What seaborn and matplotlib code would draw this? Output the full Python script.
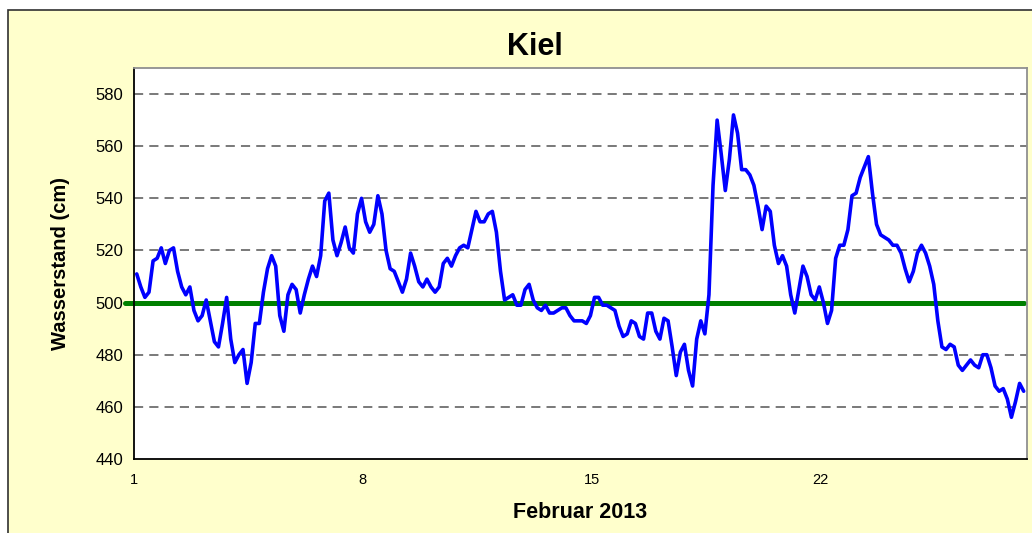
import numpy as np
import pandas as pd
import matplotlib
matplotlib.use('Agg')
import matplotlib.pyplot as plt
import matplotlib.patches as patches
import seaborn as sns

# Wasserstand Kiel, Februar 2013, 3-stuendlich ab 1. Feb 02:00
pegel_cm = [
    511, 506, 502, 504, 516, 517, 521, 515,
    520, 521, 512, 506, 503, 506, 497, 493,
    495, 501, 493, 485, 483, 492, 502, 486,
    477, 480, 482, 469, 477, 492, 492, 504,
    513, 518, 514, 495, 489, 503, 507, 505,
    496, 503, 509, 514, 510, 518, 539, 542,
    524, 518, 523, 529, 521, 519, 534, 540,
    531, 527, 530, 541, 534, 520, 513, 512,
    508, 504, 509, 519, 514, 508, 506, 509,
    506, 504, 506, 515, 517, 514, 518, 521,
    522, 521, 528, 535, 531, 531, 534, 535,
    527, 512, 501, 502, 503, 499, 499, 505,
    507, 501, 498, 497, 499, 496, 496, 497,
    498, 498, 495, 493, 493, 493, 492, 495,
    502, 502, 499, 499, 498, 497, 491, 487,
    488, 493, 492, 487, 486, 496, 496, 489,
    486, 494, 493, 483, 472, 481, 484, 474,
    468, 486, 493, 488, 503, 545, 570, 557,
    543, 555, 572, 565, 551, 551, 549, 545,
    537, 528, 537, 535, 522, 515, 518, 514,
    503, 496, 505, 514, 510, 503, 501, 506,
    500, 492, 497, 517, 522, 522, 528, 541,
    542, 548, 552, 556, 542, 530, 526, 525,
    524, 522, 522, 519, 513, 508, 512, 519,
    522, 519, 514, 507, 493, 483, 482, 484,
    483, 476, 474, 476, 478, 476, 475, 480,
    480, 475, 468, 466, 467, 463, 456, 462,
    469, 466,
]
start_stunde = 2
schritt_stunden = 3
mittelwasser = 500
tage = list(range(1, 29))
tag_labels = {1: '1', 8: '8', 15: '15', 22: '22'}
y_ticks = [440, 460, 480, 500, 520, 540, 560, 580]

df = pd.DataFrame({'Wasserstand': pegel_cm})
df['Tag'] = 1 + (start_stunde + schritt_stunden * df.index) / 24

sns.set_theme(style='white')
plt.rcParams['font.family'] = ['Liberation Sans', 'DejaVu Sans']
plt.rcParams['text.color'] = 'black'
plt.rcParams['axes.labelcolor'] = 'black'
plt.rcParams['xtick.color'] = 'black'
plt.rcParams['ytick.color'] = 'black'

W, H = 1032, 533
fig = plt.figure(figsize=(W / 100, H / 100), dpi=100, facecolor='white')
rahmen = patches.Rectangle((8 / W, -0.2), 1.2, (H - 9.5) / H + 0.2,
                           transform=fig.transFigure, facecolor='#FFFFCC',
                           edgecolor='#303030', lw=1.2, zorder=-10)
fig.add_artist(rahmen)

ax = fig.add_axes([134 / W, (H - 459) / H, (1027 - 134) / W, (459 - 68) / H])
ax.set_zorder(2)
ax.set_facecolor('white')

for v in y_ticks[1:]:
    ax.axhline(v, color='#555555', lw=1.1, ls=(0, (6, 4)), zorder=1)

ax.axhline(mittelwasser, xmin=-0.01, xmax=0.997, color='#008000', lw=3.6,
           clip_on=False, zorder=2)

sns.lineplot(data=df, x='Tag', y='Wasserstand', ax=ax, color='#0000FF',
             lw=2.6, zorder=3, legend=False)

ax.set_xlim(1, 28.31)
ax.set_ylim(440, 590)
ax.set_yticks(y_ticks)
ax.set_yticklabels([str(v) for v in y_ticks], fontsize=12)
ax.set_xticks(tage)
ax.set_xticklabels([tag_labels.get(t, '') for t in tage], fontsize=10.5)

ax.tick_params(axis='y', direction='out', length=5, width=1, color='black', pad=3)
ax.tick_params(axis='x', direction='out', length=4, width=1, color='black', pad=6)

for s in ['left', 'bottom']:
    ax.spines[s].set_color('black')
    ax.spines[s].set_linewidth(1.3)
for s in ['top', 'right']:
    ax.spines[s].set_color('#909090')
    ax.spines[s].set_linewidth(1.3)

ax.set_xlabel('Februar 2013', fontsize=15.5, fontweight='bold', labelpad=11)
ax.set_ylabel('Wasserstand (cm)', fontsize=14.5, fontweight='bold', labelpad=18)
fig.text(535 / W, 1 - 47 / H, 'Kiel', ha='center', va='center',
         fontsize=22, fontweight='bold')

fig.savefig('out.png', dpi=100, facecolor=fig.get_facecolor())
